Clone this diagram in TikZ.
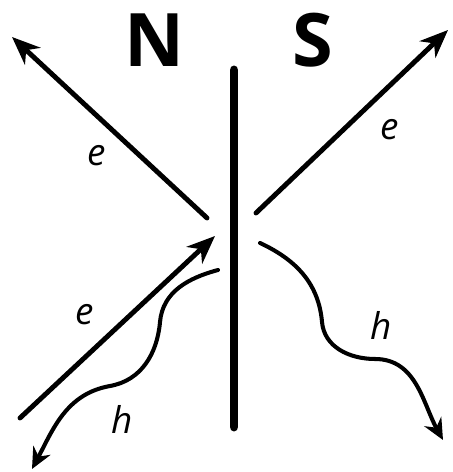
\documentclass[tikz,border=0pt]{standalone}
\usepackage{fontspec}
\setmainfont{Open Sans}
\usetikzlibrary{arrows.meta}

\begin{document}
\begin{tikzpicture}[x=0.02cm, y=0.02cm,
    ray/.style={line width=2.8pt, line cap=round,
      -{Stealth[length=16pt, width=13pt, inset=5pt]}},
    wav/.style={line width=2.3pt, line cap=round,
      -{Stealth[length=12pt, width=11pt, inset=4pt]}},
    pole/.style={font=\fontsize{42}{42}\selectfont\bfseries, inner sep=0pt},
    lbl/.style={font=\fontsize{21}{21}\selectfont\itshape, inner sep=0pt}]
  \useasboundingbox (0,0) rectangle (452,472);
  % junction
  \coordinate (top) at (234,402);
  \coordinate (bot) at (234,45);
  \draw[line width=5.1pt, line cap=round] (top) -- (bot);
  \node[pole] (N) at (154,432) {N};
  \node[pole] (S) at (313,432) {S};
  % electrons
  \coordinate (e1s) at (207,254); \coordinate (e1t) at (12,435);
  \coordinate (e2s) at (256,259); \coordinate (e2t) at (448,442);
  \coordinate (e3s) at (20,54);   \coordinate (e3t) at (215,236);
  \foreach \a/\b in {e1s/e1t,e2s/e2t,e3s/e3t} \draw[ray] (\a) -- (\b);
  \node[lbl] (eN) at (97,316) {e};
  \node[lbl] (eS) at (390,342) {e};
  \node[lbl] (eIn) at (85,157) {e};
  % holes
  \coordinate (h1s) at (218,202); \coordinate (h1t) at (32,3);
  \coordinate (h2s) at (260,229); \coordinate (h2t) at (443,32);
  \draw[wav] (h1s) to[out=195,in=85] (160,150) to[out=265,in=10] (110,86)
    to[out=190,in=62] (h1t);
  \draw[wav] (h2s) to[out=-25,in=95] (322,150) to[out=275,in=180] (375,113)
    to[out=0,in=119] (h2t);
  \node[lbl] (hS) at (381,147) {h};
  \node[lbl] (hN) at (122,53) {h};
\end{tikzpicture}
\end{document}
